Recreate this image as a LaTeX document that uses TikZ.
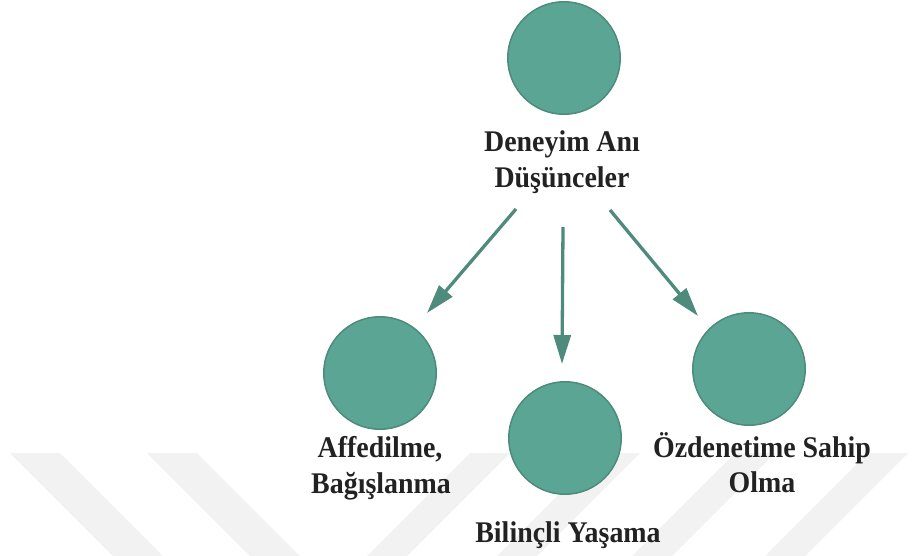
\documentclass[tikz,border=0pt]{standalone}
\usepackage{fontspec}
\setmainfont{Liberation Serif}
\newfontfamily\labfont{Liberation Serif}[FakeStretch=0.93]
\usetikzlibrary{arrows.meta}
\definecolor{tealfill}{HTML}{5BA594}
\definecolor{tealdark}{HTML}{4E8B7C}
\definecolor{wmgray}{HTML}{F2F2F2}
\definecolor{txtcol}{HTML}{222222}
\begin{document}
\begin{tikzpicture}[x=1pt,y=-1pt,
  circ/.style={circle,fill=tealfill,draw=tealdark,line width=1.5pt,minimum size=112.5pt,inner sep=0pt},
  lab/.style={anchor=base,inner sep=0pt,text=txtcol,font=\labfont\bfseries\fontsize{30}{36}\selectfont},
  conn/.style={draw=tealdark,line width=3.3pt,-{Triangle[length=29pt,width=17pt]}},
  band/.style={fill=wmgray}]
\useasboundingbox (0,0) rectangle (912,556);
% faint background watermark bands
\begin{scope}
\clip (0,0) rectangle (912,556);
\fill[band] (10,453) -- (60,453) -- (163,556) -- (113,556) -- cycle;
\fill[band] (147,453) -- (197,453) -- (300,556) -- (250,556) -- cycle;
\fill[band] (470,453) -- (510,453) -- (407,556) -- (367,556) -- cycle;
\fill[band] (600,453) -- (640,453) -- (537,556) -- (497,556) -- cycle;
\fill[band] (735,453) -- (775,453) -- (672,556) -- (632,556) -- cycle;
\fill[band] (868,453) -- (908,453) -- (805,556) -- (765,556) -- cycle;
\end{scope}
% circles
\node[circ] (c0) at (564,58) {};
\node[circ] (c1) at (380,373) {};
\node[circ] (c2) at (565,438) {};
\node[circ] (c3) at (749,369) {};
% labels
\node[lab] (t1) at (562,152) {Deneyim Anı};
\node[lab] (t2) at (562,188) {Düşünceler};
\node[lab] (l1) at (380,457) {Affedilme,};
\node[lab] (l2) at (381,493) {Bağışlanma};
\node[lab] (m1) at (568,542) {Bilinçli Yaşama};
\node[lab] (r1) at (762,457) {Özdenetime Sahip};
\node[lab] (r2) at (762,492) {Olma};
% arrows
\coordinate (a1s) at (516,209);
\coordinate (a1e) at (427,313);
\coordinate (a2s) at (563,227);
\coordinate (a2e) at (562,364);
\coordinate (a3s) at (610,210);
\coordinate (a3e) at (698,316);
\draw[conn] (a1s) -- (a1e);
\draw[conn] (a2s) -- (a2e);
\draw[conn] (a3s) -- (a3e);
\end{tikzpicture}
\end{document}
